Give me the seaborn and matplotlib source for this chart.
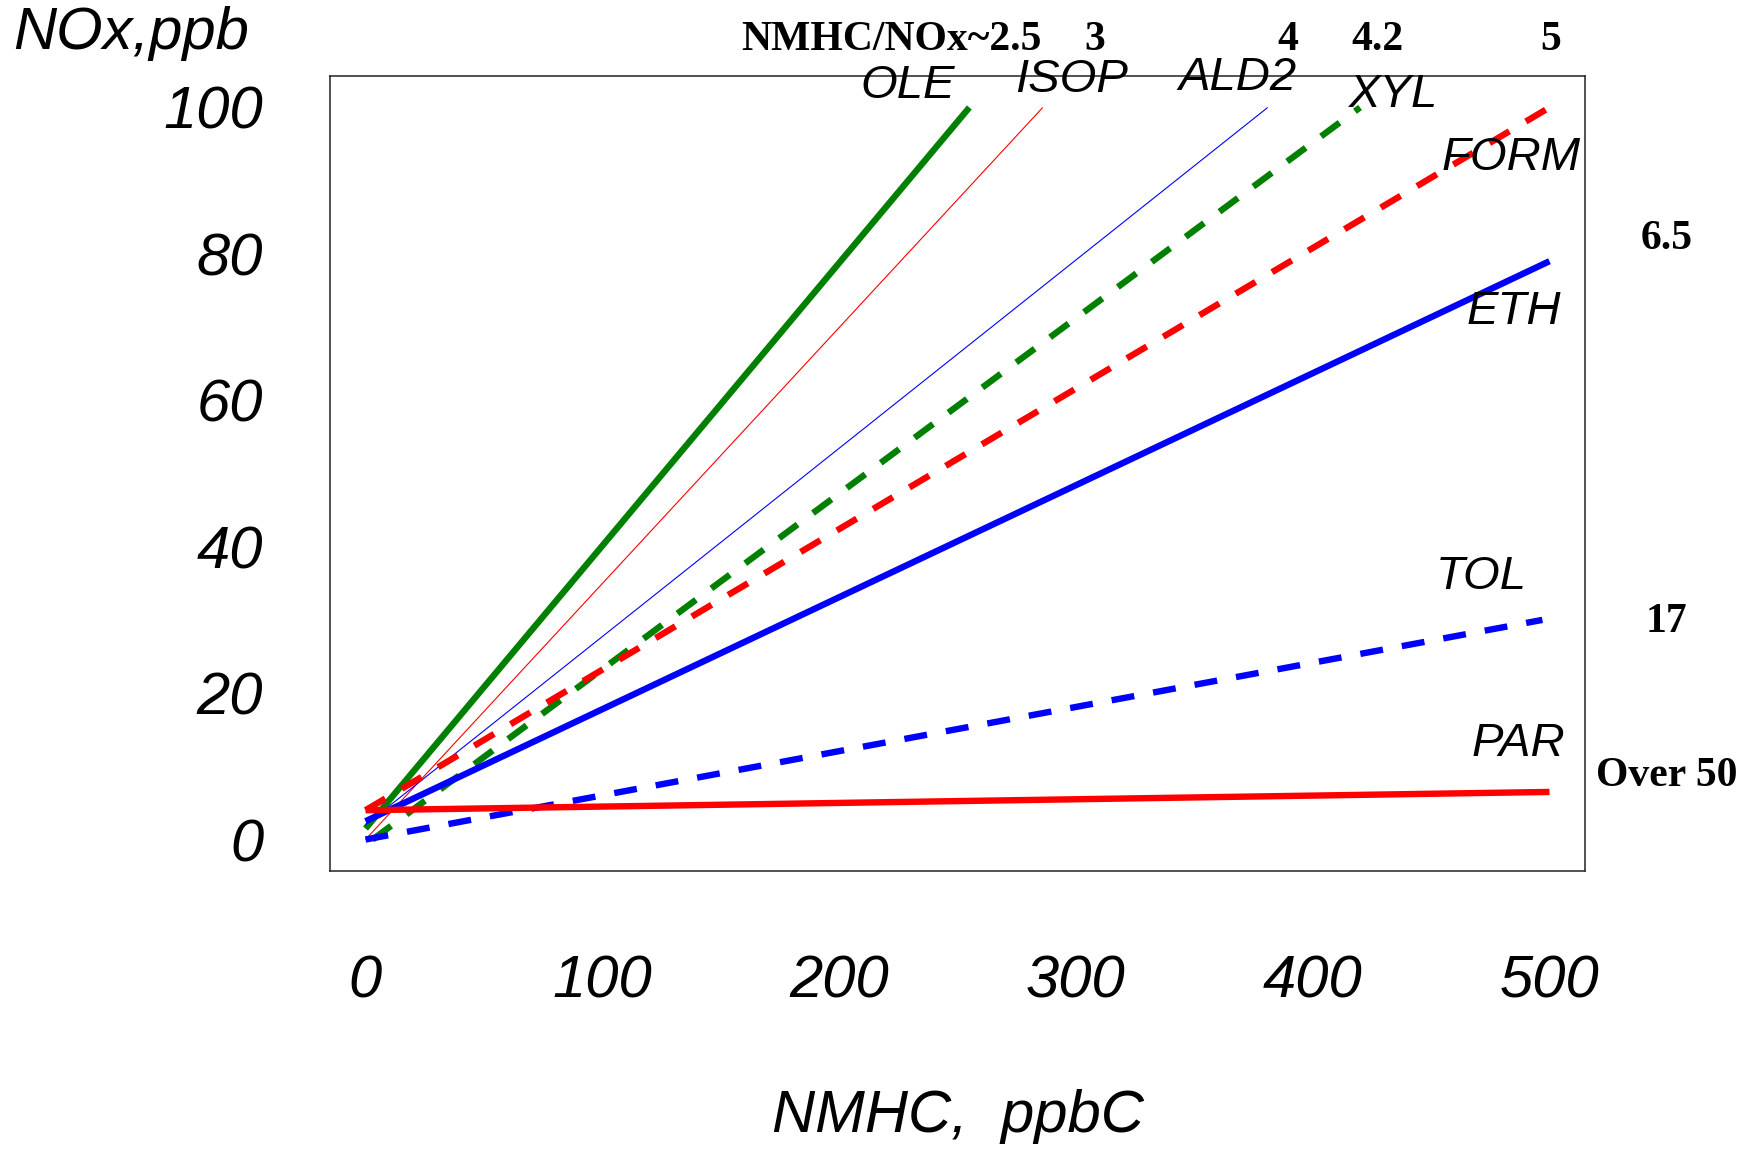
import matplotlib
matplotlib.use("Agg")
import matplotlib.pyplot as plt
import seaborn as sns
import pandas as pd

# ---------------- data ----------------
species = ["OLE", "ISOP", "ALD2", "XYL", "FORM", "ETH", "TOL", "PAR"]
ole_x, ole_y = [0, 255], [1.5, 100]
isop_x, isop_y = [0, 286], [0, 100]
ald2_x, ald2_y = [0, 381], [2, 100]
xyl_x, xyl_y = [3, 420], [0, 100]
form_x, form_y = [0, 500], [4, 100]
eth_x, eth_y = [0, 500], [2.5, 79]
tol_x, tol_y = [0, 497], [0, 30]
par_x, par_y = [0, 500], [4, 6.5]

x_ticks = [0, 100, 200, 300, 400, 500]
y_ticks = [0, 20, 40, 60, 80, 100]
ratio_top = ["NMHC/NOx~2.5", "3", "4", "4.2", "5"]
ratio_right = ["6.5", "17", "Over 50"]

xs = [ole_x, isop_x, ald2_x, xyl_x, form_x, eth_x, tol_x, par_x]
ys = [ole_y, isop_y, ald2_y, xyl_y, form_y, eth_y, tol_y, par_y]

# ---------------- styles ----------------
GREEN, RED, BLUE = "#008000", "#FF0000", "#0000FF"
DASH = (0, (3.6, 3.0))
THICK = 4.6
styles = {
    "OLE":  dict(color=GREEN, lw=THICK, ls="-"),
    "ISOP": dict(color=RED, lw=0.8, ls="-"),
    "ALD2": dict(color=BLUE, lw=0.8, ls="-"),
    "XYL":  dict(color=GREEN, lw=THICK, ls=DASH),
    "FORM": dict(color=RED, lw=THICK, ls=DASH),
    "ETH":  dict(color=BLUE, lw=THICK, ls="-"),
    "TOL":  dict(color=BLUE, lw=THICK, ls=DASH),
    "PAR":  dict(color=RED, lw=THICK, ls="-"),
}
# label positions (data coords)
label_pos = {
    "OLE": (229, 102.9), "ISOP": (298, 103.7), "ALD2": (368, 104.0),
    "XYL": (434, 101.7), "FORM": (484, 93.1), "ETH": (485, 72.0),
    "TOL": (471, 35.9), "PAR": (487, 13.1),
}

sns.set_style("white")
plt.rcParams["font.family"] = ["Liberation Sans", "DejaVu Sans"]
plt.rcParams["font.style"] = "italic"
plt.rcParams["text.color"] = "black"
plt.rcParams["axes.labelcolor"] = "black"
plt.rcParams["xtick.color"] = "black"
plt.rcParams["ytick.color"] = "black"

W, H = 1756, 1155
fig = plt.figure(figsize=(W / 100, H / 100), dpi=100)
L, R, T, B = 330, 1585, 76, 871
ax = fig.add_axes([L / W, 1 - B / H, (R - L) / W, (B - T) / H])

for name, x, y in zip(species, xs, ys):
    st = styles[name]
    df = pd.DataFrame({"x": x, "y": y})
    sns.lineplot(data=df, x="x", y="y", ax=ax, color=st["color"],
                 linewidth=st["lw"], linestyle=st["ls"],
                 solid_capstyle="butt", dash_capstyle="butt",
                 estimator=None, sort=False)

for name in species:
    px, py = label_pos[name]
    ax.text(px, py, name, fontsize=34, fontstyle="italic",
            ha="center", va="center", color="black", clip_on=False)

ax.set_xlim(-15, 515)
ax.set_ylim(-4.3, 104.3)
ax.set_xticks(x_ticks)
ax.set_yticks(y_ticks)
ax.set_xticklabels([str(v) for v in x_ticks])
ax.set_yticklabels([str(v) for v in y_ticks])
ax.tick_params(axis="both", direction="out", length=24, width=1.1,
               color="black", labelsize=43, labelcolor="black")
ax.tick_params(axis="x", pad=36)
ax.tick_params(axis="y", pad=24)
for lbl in ax.get_xticklabels() + ax.get_yticklabels():
    lbl.set_fontstyle("italic")

for sp in ax.spines.values():
    sp.set_visible(True)
    sp.set_color("#222222")
    sp.set_linewidth(1.1)

ax.set_xlabel("NMHC,  ppbC", fontsize=43, fontstyle="italic",
              va="center", ha="center", color="black")
ax.xaxis.set_label_coords(0.5, (B - 1116.6) / (B - T))
ax.set_ylabel("NOx,ppb", fontsize=43, fontstyle="italic", rotation=0,
              ha="left", va="center", color="black")
ax.yaxis.set_label_coords((13.4 - L) / (R - L), (B - 33.6) / (B - T))

# ratio annotations (figure pixel positions)
bold = dict(family=["Liberation Serif", "DejaVu Serif"], fontweight="bold",
            fontstyle="normal", fontsize=30, color="black", va="center")
top_pos = [(1041.6, 40.0, "right"), (1095, 40.0, "center"),
           (1288, 40.0, "center"), (1377.6, 40.0, "center"),
           (1551, 40.0, "center")]
for txt, (px, py, ha) in zip(ratio_top, top_pos):
    fig.text(px / W, 1 - py / H, txt, ha=ha, **bold)
right_pos = [(1666.6, 238.6), (1666.6, 621.6), (1666.6, 776.0)]
for txt, (px, py) in zip(ratio_right, right_pos):
    fig.text(px / W, 1 - py / H, txt, ha="center", **bold)

fig.savefig("out.png", dpi=100, facecolor="white")
